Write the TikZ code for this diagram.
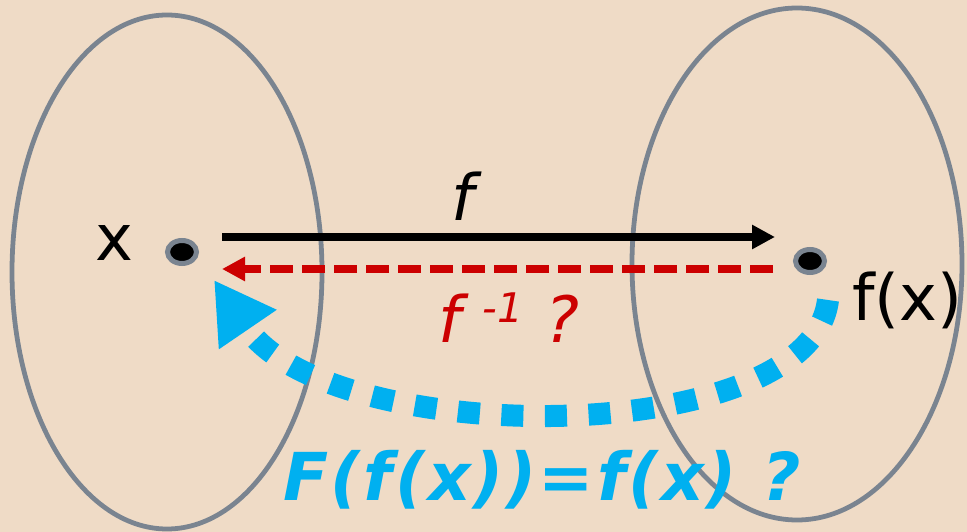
\documentclass[tikz,border=0pt]{standalone}
\usepackage{fontspec}
\setmainfont{DejaVu Sans}
\usepackage{xcolor}
\usepackage{tikz}
\usetikzlibrary{arrows.meta,calc,positioning,shapes.geometric}
\definecolor{paper}{HTML}{EFDBC6}
\definecolor{setline}{HTML}{7A8490}
\definecolor{inverse}{HTML}{CC0000}
\definecolor{fixpt}{HTML}{00B0F0}

\begin{document}
\begin{tikzpicture}[
        set/.style={ellipse,draw=setline,line width=3.4pt,inner sep=0pt},
        pt/.style={ellipse,draw=setline,fill=black,line width=0.125cm,
                   minimum width=0.725cm,minimum height=0.575cm,inner sep=0pt},
        lbl/.style={inner sep=0pt,font=\fontsize{45.5}{50}\selectfont},
        map/.style={line width=0.2cm,-{Triangle[length=0.575cm,width=0.575cm]}}
      ]
        \fill[paper] (0,0) rectangle (24.175,13.3);
        \useasboundingbox (0,0) rectangle (24.175,13.3);
        \node[set,minimum width=7.75cm,minimum height=12.85cm] (X) at (4.175,6.5) {};
        \node[set,minimum width=8.25cm,minimum height=12.8cm] (Y) at (19.925,6.7) {};
        \node[pt] (xpt) at (4.55,7.0) {};
        \node[pt] (ypt) at (20.25,6.775) {};
        \node[lbl,anchor=base] (xlab) at (2.85,6.775) {x};
        \node[lbl,anchor=base west] (ylab) at (21.3,5.275) {f(x)};
        % forward and inverse maps
        \coordinate (fs) at (5.55,7.375);
        \coordinate (fe) at (19.375,7.375);
        \coordinate (gs) at (19.325,6.575);
        \coordinate (ge) at (5.55,6.575);
        \draw[map,black] (fs) -- (fe);
        \draw[map,inverse,dash pattern=on 0.575cm off 0.225cm] (gs) -- (ge);
        \node[lbl,anchor=base] (flab) at (11.575,7.775) {\itshape f};
        \node[lbl,anchor=base west,text=inverse] (ginv) at (10.95,4.725)
          {\itshape f\hspace{0.55cm}\raisebox{0.5cm}{\fontsize{29}{29}\selectfont -1}\hspace{0.55cm}?};
        % fixed point question
        \coordinate (Fs) at (20.7,5.8);
        \coordinate (Fe) at (5.35,6.3);
        \draw[fixpt,line width=0.55cm,dash pattern=on 0.55cm off 0.54cm,
              -{Triangle[length=1.5cm,width=1.64cm]}]
          (Fs) .. controls (20.25,2.05) and (8.25,2.05) .. (Fe);
        \node[inner sep=0pt,anchor=base west,text=fixpt,
              font=\fontsize{47}{50}\selectfont\bfseries\itshape\addfontfeature{LetterSpace=4}]
          (eq) at (7.075,0.775) {F(f(x))=f(x) ?};
      \end{tikzpicture}
\end{document}
